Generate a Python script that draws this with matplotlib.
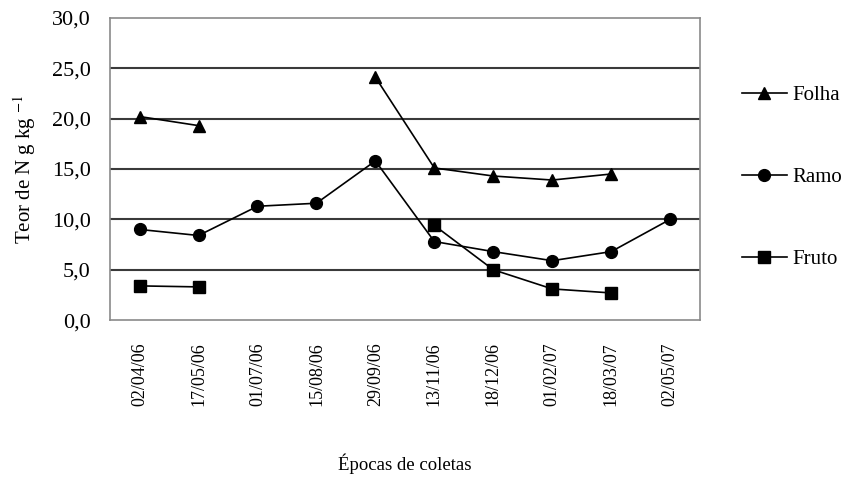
import numpy as np
import matplotlib.pyplot as plt
from matplotlib.ticker import FuncFormatter

plt.rcParams['font.family'] = ['Liberation Serif', 'DejaVu Serif']
plt.rcParams['mathtext.fontset'] = 'stix'

# datas de coleta
datas = ["02/04/06", "17/05/06", "01/07/06", "15/08/06", "29/09/06",
         "13/11/06", "18/12/06", "01/02/07", "18/03/07", "02/05/07"]

# teor de N (g/kg), nan = sem coleta
folha = [20.2, 19.3, np.nan, np.nan, 24.1, 15.1, 14.3, 13.9, 14.5, np.nan]
ramo = [9.0, 8.4, 11.3, 11.6, 15.8, 7.8, 6.8, 5.9, 6.8, 10.0]
fruto = [3.4, 3.3, np.nan, np.nan, np.nan, 9.4, 5.0, 3.1, 2.7, np.nan]

fig = plt.figure(figsize=(8.47, 4.8), dpi=100)
ax = fig.add_axes([0.130, 0.333, 0.696, 0.630])

x = np.arange(len(datas))

# linhas de grade horizontais
for v in [5, 10, 15, 20, 25]:
    ax.axhline(v, color='#3a3a3a', lw=1.5, zorder=1)

estilo = dict(color='black', lw=1.2, markersize=8.5, zorder=3)
ax.plot(x, folha, marker='^', label='Folha', **estilo)
ax.plot(x, ramo, marker='o', label='Ramo', **estilo)
ax.plot(x, fruto, marker='s', label='Fruto', **estilo)

ax.set_xlim(-0.5, len(datas) - 0.5)
ax.set_ylim(0, 30)
ax.set_yticks(np.arange(0, 31, 5))
ax.yaxis.set_major_formatter(FuncFormatter(lambda v, p: f"{v:.1f}".replace('.', ',')))
ax.set_xticks(x)
ax.set_xticklabels(datas, rotation=90, fontsize=13)
ax.tick_params(axis='y', labelsize=16, length=0, pad=14)
ax.tick_params(axis='x', length=0, pad=16)

for s in ax.spines.values():
    s.set_color('#8a8a8a')
    s.set_linewidth(1.2)

ax.set_ylabel("Teor de N g kg $^{-1}$", fontsize=15, labelpad=10)
ax.set_xlabel("Épocas de coletas", fontsize=13.5, labelpad=34)

ax.legend(loc='upper left', bbox_to_anchor=(1.04, 0.838), frameon=False,
          fontsize=15, handlelength=2.15, handletextpad=0.25, labelspacing=3.0,
          numpoints=1)

fig.savefig('out.png', dpi=100)
